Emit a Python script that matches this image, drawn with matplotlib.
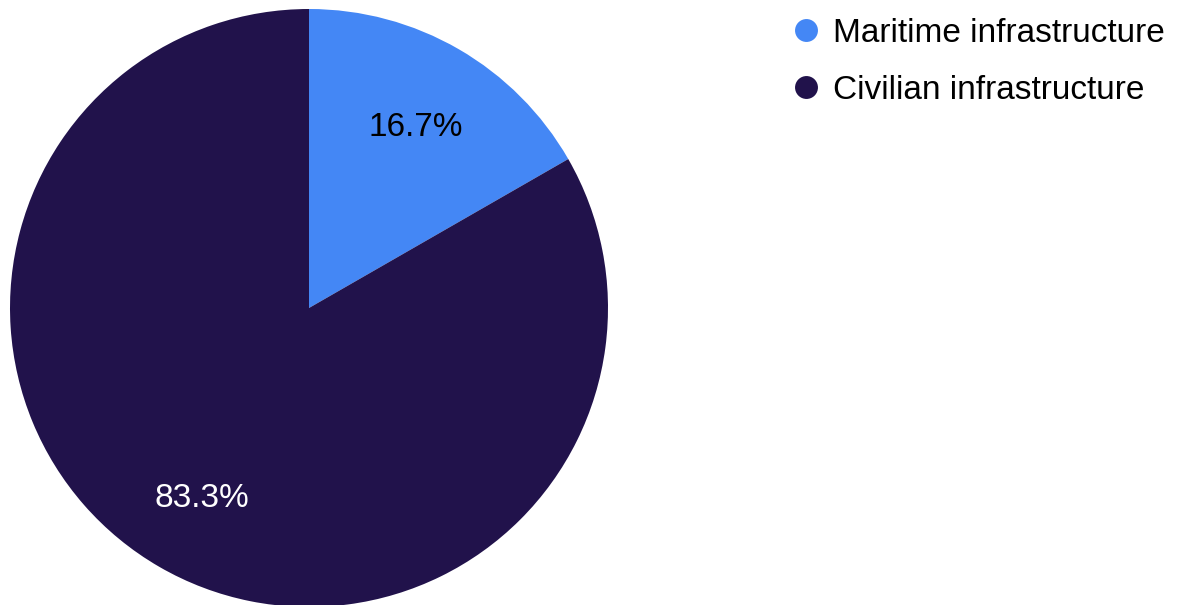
import matplotlib
matplotlib.use("Agg")
import matplotlib.pyplot as plt
from matplotlib.lines import Line2D

plt.rcParams['font.family'] = ['Liberation Sans', 'DejaVu Sans']

# data
labels = ["Maritime infrastructure", "Civilian infrastructure"]
values = [16.7, 83.3]
colors = ["#4487F5", "#21124B"]
text_colors = ["black", "white"]

W, H = 1179, 605
fig = plt.figure(figsize=(W / 100, H / 100), dpi=100)

# pie centred at (309, 308) px with radius ~299 px
cx, cy, r = 309, 308, 299
ax = fig.add_axes([(cx - r) / W, (H - cy - r) / H, 2 * r / W, 2 * r / H])

wedges, texts, autotexts = ax.pie(
    values, colors=colors, startangle=90, counterclock=False,
    autopct="%.1f%%", pctdistance=0.715, radius=1.0,
    wedgeprops=dict(linewidth=0),
    textprops=dict(fontsize=24),
)
for t, c in zip(autotexts, text_colors):
    t.set_color(c)
    # nudge labels down a few pixels to line up with the original
    t.set_y(t.get_position()[1] - 5 / r)
ax.set_xlim(-1, 1)
ax.set_ylim(-1, 1)
ax.set_aspect("equal")
ax.axis("off")

handles = [Line2D([], [], marker="o", linestyle="none", markersize=16.5,
                  markerfacecolor=c, markeredgewidth=0) for c in colors]
fig.legend(handles, labels, loc="upper left",
           bbox_to_anchor=(789 / W, 1 - 18 / H), frameon=False,
           fontsize=24, borderpad=0, borderaxespad=0,
           handlelength=1.0, handletextpad=0.33, labelspacing=0.77)

fig.savefig("out.png", dpi=100)
